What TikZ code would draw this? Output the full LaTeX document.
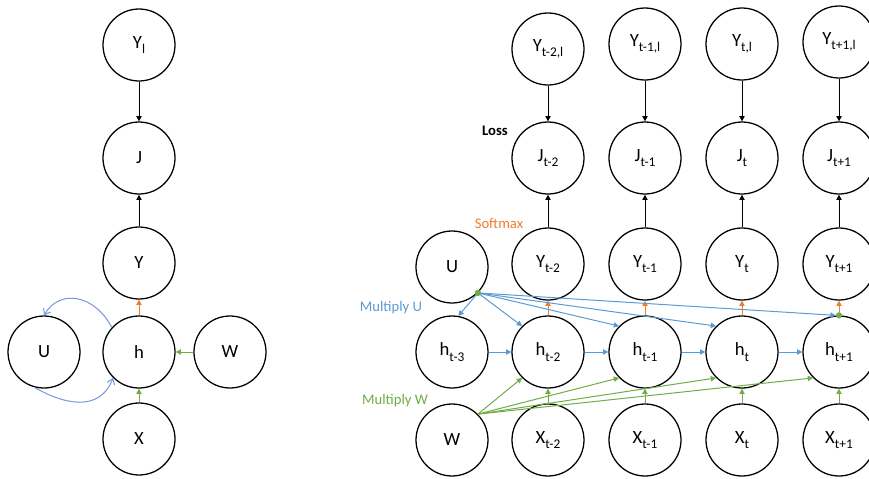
\documentclass[tikz,border=0pt]{standalone}
\usepackage{fontspec}
\setmainfont{Carlito}
\usetikzlibrary{arrows.meta}
\definecolor{cblue}{RGB}{91,155,213}
\definecolor{corange}{RGB}{237,125,49}
\definecolor{cgreen}{RGB}{112,173,71}
\definecolor{clblue}{RGB}{120,150,220}
\newcommand\sbs[1]{\raisebox{-0.3em}{\fontsize{10}{12}\selectfont #1}}
\begin{document}
\begin{tikzpicture}[x=0.75pt,y=-0.75pt,
  nd/.style={circle,draw=black,line width=0.95pt,minimum size=54pt,inner sep=0pt,font=\fontsize{14}{16}\selectfont},
  conn/.style={line width=0.75pt,-{Triangle[length=4pt,width=4pt]}},
  blk/.style={conn,draw=black},
  org/.style={conn,draw=corange,-{Triangle[length=4pt,width=4pt,fill=corange]}},
  blu/.style={conn,draw=cblue,-{Triangle[length=4pt,width=4pt,fill=cblue]}},
  grn/.style={conn,draw=cgreen,-{Triangle[length=4pt,width=4pt,fill=cgreen]}},
  loopar/.style={line width=0.75pt,draw=clblue,-{Straight Barb[length=4pt,width=6pt]}},
  gdot/.style={circle,fill=cgreen,inner sep=0pt,minimum size=4.5pt},
  lbl/.style={inner sep=1pt,font=\fontsize{11}{13}\selectfont}]
\useasboundingbox (0,0) rectangle (869,479);

% ---- left graph ----
\node[nd] (Yl) at (139,45) {Y\sbs{l}};
\node[nd] (J) at (139,158) {J};
\node[nd] (Y) at (139,263) {Y};
\node[nd] (h) at (139,352) {h};
\node[nd] (X) at (139,439) {X};
\node[nd] (U) at (44,352) {U};
\node[nd] (W) at (230,352) {W};

\draw[blk] (Yl) -- (J);
\draw[blk] (Y) -- (J);
\draw[org] (h) -- (Y);
\draw[grn] (W) -- (h);
\draw[grn] (X) -- (h);
\draw[loopar] (h.138) .. controls (95,295) and (60,288) .. (U.north);
\draw[loopar] (U.255) .. controls (65,405) and (100,412) .. (h.south west);

% ---- right graph ----
\node[nd] (yl1) at (548,49) {Y\sbs{t-2,l}};
\node[nd] (yl2) at (645,44) {Y\sbs{t-1,l}};
\node[nd] (yl3) at (742,44) {Y\sbs{t,l}};
\node[nd] (yl4) at (839,42) {Y\sbs{t+1,l}};

\node[nd] (j1) at (548,158) {J\sbs{t-2}};
\node[nd] (j2) at (645,158) {J\sbs{t-1}};
\node[nd] (j3) at (742,158) {J\sbs{t}};
\node[nd] (j4) at (839,158) {J\sbs{t+1}};

\node[nd] (U2) at (452,267) {U};
\node[nd] (y1) at (548,264) {Y\sbs{t-2}};
\node[nd] (y2) at (645,264) {Y\sbs{t-1}};
\node[nd] (y3) at (742,264) {Y\sbs{t}};
\node[nd] (y4) at (839,264) {Y\sbs{t+1}};

\node[nd] (h0) at (452,352) {h\sbs{t-3}};
\node[nd] (h1) at (548,352) {h\sbs{t-2}};
\node[nd] (h2) at (645,352) {h\sbs{t-1}};
\node[nd] (h3) at (742,352) {h\sbs{t}};
\node[nd] (h4) at (839,352) {h\sbs{t+1}};

\node[nd] (W2) at (452,440) {W};
\node[nd] (x1) at (548,440) {X\sbs{t-2}};
\node[nd] (x2) at (645,440) {X\sbs{t-1}};
\node[nd] (x3) at (742,440) {X\sbs{t}};
\node[nd] (x4) at (839,440) {X\sbs{t+1}};

\node[lbl,font=\fontsize{11}{13}\selectfont\bfseries] (loss) at (495,131) {Loss};
\node[lbl,text=corange] (smx) at (499,224) {Softmax};
\node[lbl,text=cblue] (mu) at (391,308) {Multiply U};
\node[lbl,text=cgreen] (mw) at (395,401) {Multiply W};

\foreach \i in {1,...,4}{
  \draw[blk] (yl\i) -- (j\i);
  \draw[blk] (y\i) -- (j\i);
  \draw[grn] (x\i) -- (h\i);
}
\foreach \i in {1,2,3}{
  \draw[org] (h\i) -- (y\i);
}
\draw[blu] (h0) -- (h1);
\draw[blu] (h1) -- (h2);
\draw[blu] (h2) -- (h3);
\draw[blu] (h3) -- (h4);

\node[gdot] (d1) at (U2.south east) {};
\node[gdot] (d2) at (h4.north) {};

\draw[blu] (d1.center) -- (h0.80);
\draw[blu] (d1.center) -- (h1.north west);
\draw[blu] (d1.center) -- (h2.north west);
\draw[blu] (d1.center) -- (h3.north west);
\draw[blu] (d1.center) -- (d2.west);
\draw[org] (d2) -- (y4);

\draw[grn] (W2.north east) -- (h1.south west);
\draw[grn] (W2.north east) -- (h2.south west);
\draw[grn] (W2.north east) -- (h3.south west);
\draw[grn] (W2.north east) -- (h4.south west);

\node[gdot] at (U2.south east) {};
\node[gdot] at (h4.north) {};
\end{tikzpicture}
\end{document}
